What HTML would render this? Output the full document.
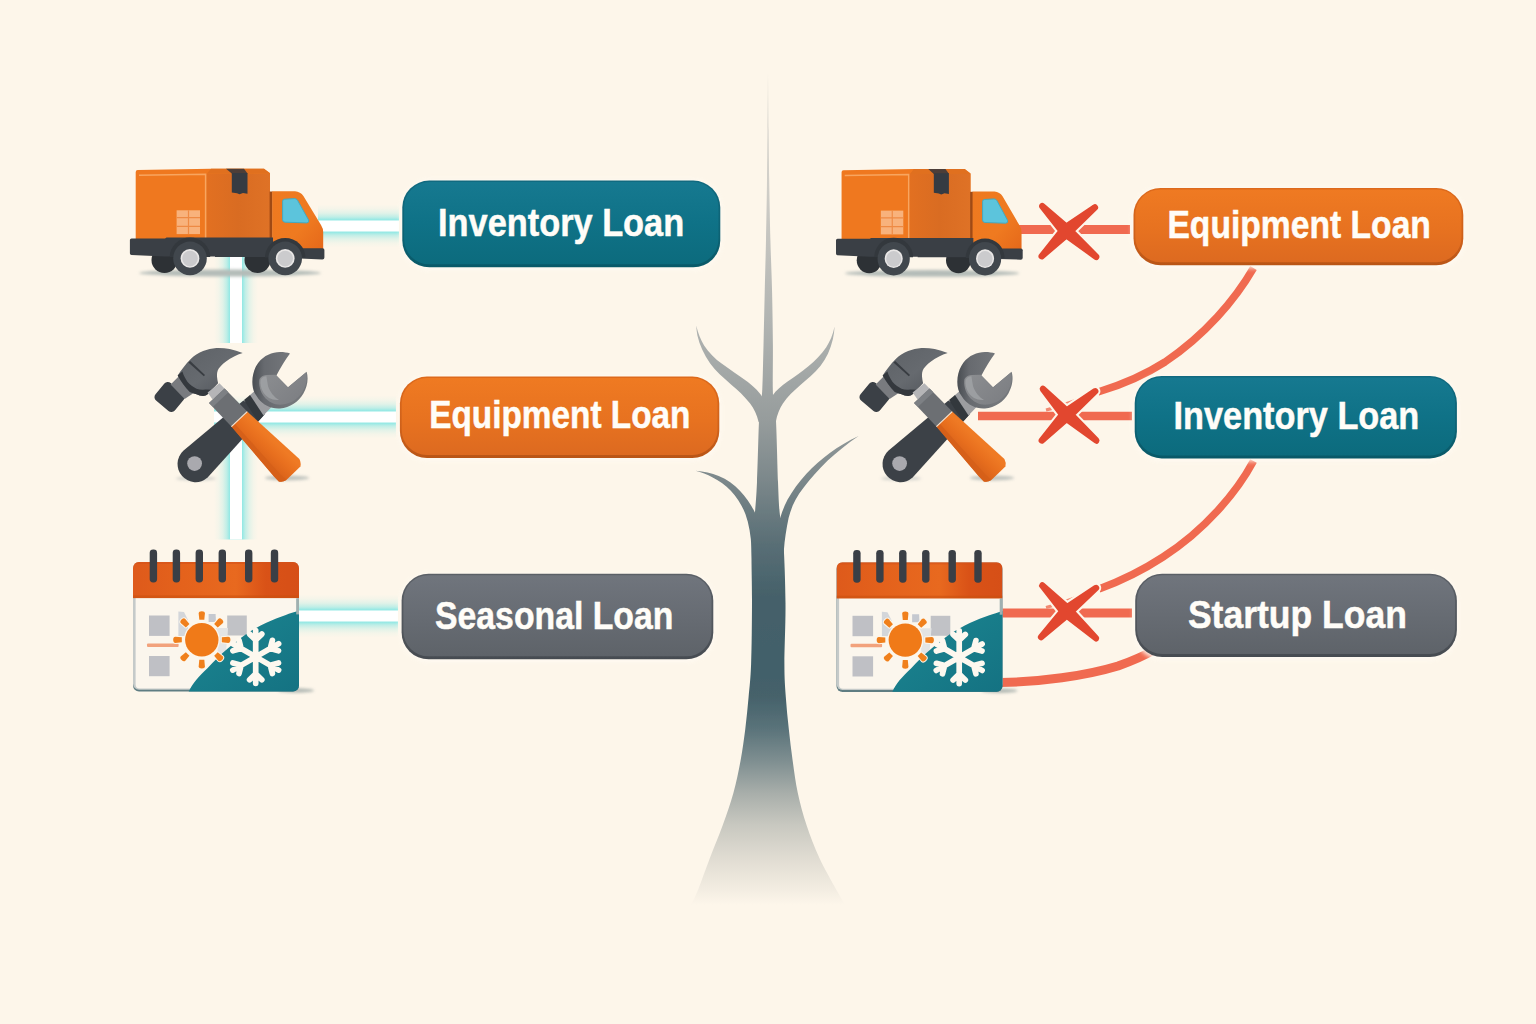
<!DOCTYPE html>
<html lang="en">
<head>
<meta charset="utf-8">
<title>Loan matching diagram</title>
<style>
  html,body{margin:0;padding:0;background:#fdf6ea;}
  body{width:1536px;height:1024px;overflow:hidden;font-family:"Liberation Sans",sans-serif;}
  svg{display:block;}
  .lbl{font-family:"Liberation Sans",sans-serif;font-weight:bold;fill:#fffdf8;stroke:#fffdf8;stroke-width:0.5px;}
</style>
</head>
<body>
<svg width="1536" height="1024" viewBox="0 0 1536 1024">
<defs>
  <filter id="soft3" x="-10%" y="-20%" width="120%" height="140%"><feGaussianBlur stdDeviation="2.2"/></filter>
  <filter id="blur1" x="-10%" y="-10%" width="120%" height="120%"><feGaussianBlur stdDeviation="0.6"/></filter>
  <filter id="blur2" x="-20%" y="-50%" width="140%" height="200%"><feGaussianBlur stdDeviation="1.6"/></filter>
  <filter id="blur5" x="-20%" y="-20%" width="140%" height="140%"><feGaussianBlur stdDeviation="4"/></filter>
  <linearGradient id="g_teal" x1="0" y1="0" x2="0" y2="1">
    <stop offset="0" stop-color="#167990"/><stop offset="0.5" stop-color="#0f7287"/><stop offset="1" stop-color="#0c6b7d"/>
  </linearGradient>
  <linearGradient id="g_teal_edge" x1="0" y1="0" x2="0" y2="1">
    <stop offset="0" stop-color="#116a80"/><stop offset="0.7" stop-color="#0c6172"/><stop offset="1" stop-color="#095968"/>
  </linearGradient>
  <linearGradient id="g_orange" x1="0" y1="0" x2="0" y2="1">
    <stop offset="0" stop-color="#ef7a22"/><stop offset="0.55" stop-color="#e77220"/><stop offset="1" stop-color="#dd6a20"/>
  </linearGradient>
  <linearGradient id="g_orange_edge" x1="0" y1="0" x2="0" y2="1">
    <stop offset="0" stop-color="#dd6a1c"/><stop offset="0.7" stop-color="#cc601b"/><stop offset="1" stop-color="#b95516"/>
  </linearGradient>
  <linearGradient id="g_gray" x1="0" y1="0" x2="0" y2="1">
    <stop offset="0" stop-color="#70757d"/><stop offset="0.55" stop-color="#666b72"/><stop offset="1" stop-color="#5e6369"/>
  </linearGradient>
  <linearGradient id="g_gray_edge" x1="0" y1="0" x2="0" y2="1">
    <stop offset="0" stop-color="#5b6067"/><stop offset="0.7" stop-color="#50555b"/><stop offset="1" stop-color="#464b51"/>
  </linearGradient>
  <linearGradient id="g_x" x1="0" y1="0" x2="1" y2="1">
    <stop offset="0" stop-color="#e34a33"/><stop offset="1" stop-color="#e5452d"/>
  </linearGradient>
  <linearGradient id="g_tree" gradientUnits="userSpaceOnUse" x1="0" y1="70" x2="0" y2="905">
    <stop offset="0" stop-color="#ddd9d1"/>
    <stop offset="0.14" stop-color="#d0cec8"/>
    <stop offset="0.30" stop-color="#b1b4b2"/>
    <stop offset="0.42" stop-color="#969c9c"/>
    <stop offset="0.49" stop-color="#7c888b"/>
    <stop offset="0.565" stop-color="#5a6f76"/>
    <stop offset="0.63" stop-color="#45616a"/>
    <stop offset="0.72" stop-color="#42606a"/>
    <stop offset="0.751" stop-color="#46626b"/>
    <stop offset="0.789" stop-color="#5a737a"/>
    <stop offset="0.828" stop-color="#7f8f91"/>
    <stop offset="0.866" stop-color="#a8aeaa"/>
    <stop offset="0.904" stop-color="#c8c8c0"/>
    <stop offset="0.944" stop-color="#e0dcd2"/>
    <stop offset="0.982" stop-color="#f3ede2"/>
    <stop offset="1" stop-color="#fdf6ea"/>
  </linearGradient>
  <linearGradient id="g_glowH" x1="0" y1="0" x2="0" y2="1">
    <stop offset="0" stop-color="#93e8e4" stop-opacity="0"/>
    <stop offset="0.10" stop-color="#93e8e4" stop-opacity="0.08"/>
    <stop offset="0.20" stop-color="#93e8e4" stop-opacity="0.26"/>
    <stop offset="0.29" stop-color="#93e8e4" stop-opacity="0.58"/>
    <stop offset="0.355" stop-color="#93e8e4" stop-opacity="0.98"/>
    <stop offset="0.645" stop-color="#93e8e4" stop-opacity="0.98"/>
    <stop offset="0.71" stop-color="#93e8e4" stop-opacity="0.58"/>
    <stop offset="0.80" stop-color="#93e8e4" stop-opacity="0.26"/>
    <stop offset="0.90" stop-color="#93e8e4" stop-opacity="0.08"/>
    <stop offset="1" stop-color="#93e8e4" stop-opacity="0"/>
  </linearGradient>
  <linearGradient id="g_glowV" x1="0" y1="0" x2="1" y2="0">
    <stop offset="0" stop-color="#93e8e4" stop-opacity="0"/>
    <stop offset="0.10" stop-color="#93e8e4" stop-opacity="0.08"/>
    <stop offset="0.20" stop-color="#93e8e4" stop-opacity="0.26"/>
    <stop offset="0.29" stop-color="#93e8e4" stop-opacity="0.58"/>
    <stop offset="0.355" stop-color="#93e8e4" stop-opacity="0.98"/>
    <stop offset="0.645" stop-color="#93e8e4" stop-opacity="0.98"/>
    <stop offset="0.71" stop-color="#93e8e4" stop-opacity="0.58"/>
    <stop offset="0.80" stop-color="#93e8e4" stop-opacity="0.26"/>
    <stop offset="0.90" stop-color="#93e8e4" stop-opacity="0.08"/>
    <stop offset="1" stop-color="#93e8e4" stop-opacity="0"/>
  </linearGradient>

  <linearGradient id="g_boxside" x1="0" y1="0" x2="1" y2="0">
    <stop offset="0" stop-color="#e27021"/><stop offset="0.5" stop-color="#d96c22"/><stop offset="1" stop-color="#df7226"/>
  </linearGradient>
  <linearGradient id="g_cab" x1="0" y1="0" x2="1" y2="1">
    <stop offset="0" stop-color="#ee7920"/><stop offset="0.6" stop-color="#ef7a20"/><stop offset="1" stop-color="#e5681a"/>
  </linearGradient>

  <linearGradient id="g_wrtop" gradientUnits="userSpaceOnUse" x1="254" y1="372" x2="290" y2="372">
    <stop offset="0" stop-color="#4d5156"/><stop offset="0.28" stop-color="#676a6f"/><stop offset="1" stop-color="#74777b"/>
  </linearGradient>
  <linearGradient id="g_hhead" x1="0" y1="0" x2="1" y2="1">
    <stop offset="0" stop-color="#5d6166"/><stop offset="0.5" stop-color="#666a6f"/><stop offset="1" stop-color="#4c5056"/>
  </linearGradient>
  <linearGradient id="g_grip" gradientUnits="userSpaceOnUse" x1="262" y1="430" x2="247" y2="446">
    <stop offset="0" stop-color="#ef7a24"/><stop offset="0.45" stop-color="#e86f1e"/><stop offset="1" stop-color="#d9621a"/>
  </linearGradient>
  <linearGradient id="g_wr" gradientUnits="userSpaceOnUse" x1="262" y1="360" x2="300" y2="400">
    <stop offset="0" stop-color="#8f9194"/><stop offset="1" stop-color="#7d7f83"/>
  </linearGradient>

  <linearGradient id="g_calhead" x1="0" y1="0" x2="1" y2="0">
    <stop offset="0" stop-color="#de5a1b"/><stop offset="0.3" stop-color="#e4621c"/><stop offset="0.62" stop-color="#e8691f"/><stop offset="0.8" stop-color="#d95217"/><stop offset="1" stop-color="#d64f17"/>
  </linearGradient>
  <linearGradient id="g_calteal" x1="0" y1="0" x2="1" y2="1">
    <stop offset="0" stop-color="#1c8792"/><stop offset="1" stop-color="#147282"/>
  </linearGradient>
  <clipPath id="calclip"><rect x="133" y="562" width="166" height="129.4" rx="6"/></clipPath>
</defs>
<rect width="1536" height="1024" fill="#fdf6ea"/>

<g id="tree" filter="url(#blur1)" fill="url(#g_tree)">
  <!-- trunk + spike -->
  <path d="M768,73 C768.1,82.5 768.4,112.2 768.6,130.0 C768.8,147.8 768.9,161.7 769.2,180.0 C769.5,198.3 769.9,221.2 770.4,240.0 C770.9,258.8 771.7,275.1 772.1,292.7 C772.5,310.3 772.8,329.3 772.9,345.4 C773.0,361.4 772.6,379.1 772.8,389.0 C773.0,398.9 773.5,399.7 774.0,405.0 C774.5,410.3 775.3,408.2 776.0,421.0 C776.7,433.8 777.4,466.8 778.0,482.0 C778.6,497.2 778.7,502.0 779.6,512.0 C780.5,522.0 782.4,526.8 783.4,542.0 C784.4,557.2 785.3,582.7 785.5,603.0 C785.7,623.3 784.4,648.3 784.4,664.0 C784.4,679.7 785.1,686.2 785.8,697.0 C786.5,707.8 787.6,718.3 788.8,729.0 C789.9,739.7 791.2,750.3 792.7,761.0 C794.2,771.7 795.5,782.3 797.8,793.0 C800.1,803.7 802.9,814.2 806.5,825.0 C810.1,835.8 814.4,847.2 819.4,858.0 C824.4,868.8 832.1,882.0 836.5,890.0 C840.9,898.0 844.0,903.3 845.5,906.0 L690.5,906 C691.8,903.3 694.8,898.0 698.0,890.0 C701.2,882.0 705.8,868.8 709.9,858.0 C714.0,847.2 718.9,835.8 722.8,825.0 C726.7,814.2 730.4,803.7 733.4,793.0 C736.4,782.3 738.5,771.7 740.5,761.0 C742.5,750.3 743.9,739.7 745.3,729.0 C746.6,718.3 747.6,707.8 748.6,697.0 C749.6,686.2 750.5,679.7 751.1,664.0 C751.7,648.3 751.9,623.3 752.0,603.0 C752.1,582.7 751.1,557.2 751.6,542.0 C752.1,526.8 754.1,522.0 755.0,512.0 C755.9,502.0 756.3,497.2 757.0,482.0 C757.7,466.8 758.4,433.8 759.0,421.0 C759.6,408.2 760.1,410.3 760.6,405.0 C761.1,399.7 761.8,398.9 762.3,389.0 C762.8,379.1 763.1,361.4 763.5,345.4 C763.9,329.3 764.3,310.3 764.7,292.7 C765.1,275.1 765.6,258.8 766.0,240.0 C766.4,221.2 766.8,198.3 767.0,180.0 C767.2,161.7 767.3,147.8 767.5,130.0 C767.7,112.2 767.9,82.5 768.0,73.0 Z"/>
  <!-- upper left branch -->
  <path d="M696.2,325.6 C698.4,334 700.6,340 704.1,345.4 C709,353 715,358.6 722,363.8 C730,369.6 738,375 745.4,380.2 C752,385 758.4,390.4 762,396.6 L768,402 L768,428 L758.6,422 C757,414.6 754,408.6 750.1,403.5 C744.6,396.4 738,390.4 731.3,384.7 C723,377.6 715.6,371 710.2,363.6 C704,355 699.6,345 697.4,335.6 C696.8,332.4 696.4,329 696.2,325.6Z"/>
  <!-- upper right branch -->
  <path d="M834.6,326.6 C832.8,335 830,341.6 826.1,347.4 C821,354.8 815,360.6 808.7,366 C801.6,372 794.4,377 787.6,381.6 C781.6,386 776,390.4 772.4,395.8 L768,402 L768,428 L775.8,422 C777,414.6 779.6,408.6 782.9,403.5 C787.6,396.6 793.4,391.2 799.3,386.1 C807,379.4 814.6,373 820.4,366 C826.4,358.6 830.4,349.6 832.8,339.6 C833.8,335.4 834.4,331 834.6,326.6Z"/>
  <!-- lower left branch -->
  <path d="M695.6,470.8 C704,471.6 711.4,473 718.7,476 C727,479.4 734,484.6 739.9,490.8 C746,497.2 751,504.6 755.4,513.4 L768,520 L768,600 L754.5,600 C753.4,582 752.2,565 751.5,548 C751,536 749,524 745.4,514 C742,505 737,497.4 730.8,490.7 C725.4,485 719.4,480.6 712.7,477.4 C707,474.6 701.4,472.4 695.6,470.8Z"/>
  <!-- lower right branch -->
  <path d="M858.6,436 C848,441 838.6,446.4 829.8,452.9 C821,459.4 813.4,466 806.4,473.8 C799,482 792.6,490.6 787.6,499.6 C784.6,505.4 782,511.6 780,518.4 L768,520 L768,600 L782,600 C782.8,582 783.4,565 783.9,550 C784.6,540 786.4,528.6 788.6,518 C791.4,507 796,496.8 803.5,487.7 C810.6,478.4 818.6,469.6 827.7,460.6 C837,452 847.4,443.6 858.6,436Z"/>
</g>
<g id="leftlines"><rect x="214.0" y="250" width="44" height="93" fill="url(#g_glowV)"/><rect x="230.0" y="250" width="12" height="93" fill="#ffffff"/><rect x="214.0" y="411" width="44" height="128.5" fill="url(#g_glowV)"/><rect x="230.0" y="411" width="12" height="128.5" fill="#ffffff"/><rect x="318" y="204.5" width="81" height="43" fill="url(#g_glowH)"/><rect x="318" y="220.5" width="81" height="11" fill="#ffffff"/><rect x="214" y="395.5" width="182" height="43" fill="url(#g_glowH)"/><rect x="214" y="411.5" width="182" height="11" fill="#ffffff"/><rect x="299" y="594.5" width="99" height="43" fill="url(#g_glowH)"/><rect x="299" y="610.5" width="99" height="11" fill="#ffffff"/></g>
<g id="rightlines" fill="none" stroke="#f06a50" stroke-linecap="butt">
  <path d="M1018,229.5 L1130,229.5" stroke-width="9"/>
  <path d="M978,416 L1132,416" stroke-width="8.5"/>
  <path d="M1001,613 L1132,613" stroke-width="9"/>
  <path d="M1253.5,268 C1235,300 1205,335 1165,362 C1140,378 1118,386 1098,392" stroke-width="7.5"/>
  <path d="M1098,392 C1080,399 1062,406 1046,410" stroke-width="3.2" stroke="#f28a72"/>
  <path d="M1253.5,461 C1237,492 1205,530 1163,557 C1140,572 1118,582 1099,589" stroke-width="7.5"/>
  <path d="M1099,589 C1080,596 1062,603 1046,607.5" stroke-width="3.2" stroke="#f28a72"/>
  <path d="M1001,682.5 C1040,682 1085,676 1118,666 C1132,661 1142,657 1152,651" stroke-width="9"/>
</g>

<g>
  <rect x="400.8" y="179.6" width="320.99999999999994" height="90.70000000000002" rx="29" fill="#fffaf2" opacity="0.9" filter="url(#soft3)"/>
  <rect x="402.3" y="180.6" width="317.99999999999994" height="86.70000000000002" rx="27" fill="url(#g_teal_edge)"/>
  <rect x="404.1" y="182.0" width="314.3999999999999" height="82.30000000000001" rx="25.2" fill="url(#g_teal)"/>
  <text x="438" y="235.5" textLength="246.20000000000005" lengthAdjust="spacingAndGlyphs" font-size="39" class="lbl">Inventory Loan</text>
</g>
<g>
  <rect x="398.4" y="375.6" width="322.4" height="85.39999999999998" rx="29" fill="#fffaf2" opacity="0.9" filter="url(#soft3)"/>
  <rect x="399.9" y="376.6" width="319.4" height="81.39999999999998" rx="27" fill="url(#g_orange_edge)"/>
  <rect x="401.7" y="378.0" width="315.79999999999995" height="76.99999999999997" rx="25.2" fill="url(#g_orange)"/>
  <text x="429.2" y="428" textLength="261.3" lengthAdjust="spacingAndGlyphs" font-size="39" class="lbl">Equipment Loan</text>
</g>
<g>
  <rect x="400.1" y="572.8" width="314.69999999999993" height="89.5" rx="29" fill="#fffaf2" opacity="0.9" filter="url(#soft3)"/>
  <rect x="401.6" y="573.8" width="311.69999999999993" height="85.5" rx="27" fill="url(#g_gray_edge)"/>
  <rect x="403.40000000000003" y="575.1999999999999" width="308.0999999999999" height="81.1" rx="25.2" fill="url(#g_gray)"/>
  <text x="435" y="628.9" textLength="238.39999999999998" lengthAdjust="spacingAndGlyphs" font-size="39" class="lbl">Seasonal Loan</text>
</g>
<g>
  <rect x="1132.0" y="187" width="332.79999999999995" height="81.19999999999999" rx="29" fill="#fffaf2" opacity="0.9" filter="url(#soft3)"/>
  <rect x="1133.5" y="188" width="329.79999999999995" height="77.19999999999999" rx="27" fill="url(#g_orange_edge)"/>
  <rect x="1135.3" y="189.4" width="326.19999999999993" height="72.79999999999998" rx="25.2" fill="url(#g_orange)"/>
  <text x="1167.4" y="237.5" textLength="263.5" lengthAdjust="spacingAndGlyphs" font-size="39" class="lbl">Equipment Loan</text>
</g>
<g>
  <rect x="1133.2" y="375" width="325.20000000000005" height="86.39999999999998" rx="29" fill="#fffaf2" opacity="0.9" filter="url(#soft3)"/>
  <rect x="1134.7" y="376" width="322.20000000000005" height="82.39999999999998" rx="27" fill="url(#g_teal_edge)"/>
  <rect x="1136.5" y="377.4" width="318.6" height="77.99999999999997" rx="25.2" fill="url(#g_teal)"/>
  <text x="1173.6" y="428.7" textLength="245.70000000000005" lengthAdjust="spacingAndGlyphs" font-size="39" class="lbl">Inventory Loan</text>
</g>
<g>
  <rect x="1133.7" y="572.8" width="324.70000000000005" height="87.20000000000005" rx="29" fill="#fffaf2" opacity="0.9" filter="url(#soft3)"/>
  <rect x="1135.2" y="573.8" width="321.70000000000005" height="83.20000000000005" rx="27" fill="url(#g_gray_edge)"/>
  <rect x="1137.0" y="575.1999999999999" width="318.1" height="78.80000000000004" rx="25.2" fill="url(#g_gray)"/>
  <text x="1187.9" y="627.5" textLength="219.0" lengthAdjust="spacingAndGlyphs" font-size="39" class="lbl">Startup Loan</text>
</g><g id="xmarks"><path d="M1042.3,206.2 L1063.7,233.5 L1096.2,256.8 L1068.3,228.5Z M1094.9,207.4 L1063.7,228.5 L1041.7,256.3 L1068.3,233.5Z" fill="#fdf6ea" stroke="#fdf6ea" stroke-width="10.5" stroke-linejoin="round"/><path d="M1042.3,206.2 L1063.7,233.5 L1096.2,256.8 L1068.3,228.5Z M1094.9,207.4 L1063.7,228.5 L1041.7,256.3 L1068.3,233.5Z" fill="#e2472f" stroke="#e2472f" stroke-width="6.4" stroke-linejoin="round"/><path d="M1042.9,389.0 L1064.0,417.1 L1096.3,440.5 L1068.8,412.3Z M1095.2,391.2 L1064.1,412.2 L1041.8,440.5 L1068.7,417.2Z" fill="#fdf6ea" stroke="#fdf6ea" stroke-width="10.5" stroke-linejoin="round"/><path d="M1042.9,389.0 L1064.0,417.1 L1096.3,440.5 L1068.8,412.3Z M1095.2,391.2 L1064.1,412.2 L1041.8,440.5 L1068.7,417.2Z" fill="#e2472f" stroke="#e2472f" stroke-width="6.4" stroke-linejoin="round"/><path d="M1042.3,585.5 L1064.3,613.7 L1096.1,638.3 L1069.1,608.9Z M1096.0,588.0 L1064.4,608.8 L1041.1,637.1 L1069.0,613.8Z" fill="#fdf6ea" stroke="#fdf6ea" stroke-width="10.5" stroke-linejoin="round"/><path d="M1042.3,585.5 L1064.3,613.7 L1096.1,638.3 L1069.1,608.9Z M1096.0,588.0 L1064.4,608.8 L1041.1,637.1 L1069.0,613.8Z" fill="#e2472f" stroke="#e2472f" stroke-width="6.4" stroke-linejoin="round"/></g><!--ICONS-->
<g id="truck">
  <ellipse cx="230" cy="273" rx="91" ry="3.4" fill="#b4bcb8" filter="url(#blur2)"/>
  <!-- far wheels -->
  <circle cx="164.5" cy="260" r="13" fill="#2d3135"/>
  <circle cx="257.5" cy="260" r="13" fill="#2d3135"/>
  <!-- cargo box -->
  <path d="M137.7,169.9 L211,168.8 L264,168.8 L270,173 L270,240.5 L135.7,240.5 L135.7,171.9 Q135.7,169.9 137.7,169.9Z" fill="#ef781f"/>
  <path d="M206.4,173.5 L270,173.5 L270,240.5 L206.4,240.5Z" fill="url(#g_boxside)"/>
  <path d="M211,168.8 L264,168.8 L270,173.6 L207,173.6Z" fill="#e0701f"/>
  <path d="M226,168.8 L244,168.8 L247.6,173.6 L231.8,173.6Z" fill="#4d3e38"/>
  <path d="M139,175.3 L205.6,174.2 L205.6,238" fill="none" stroke="#f8a55f" stroke-width="1.5"/>
  <!-- tape -->
  <path d="M231.8,173 L247.5,173 L247.5,193.8 L243,193 L239.5,194.2 L237,193.2 L231.8,192.5Z" fill="#363b42"/>
  <!-- crate window -->
  <rect x="176.6" y="210.3" width="23.4" height="23.8" fill="#f8b27c"/>
  <path d="M188.5,210.3 V234.1 M176.6,217.6 H200 M176.6,226.4 H200" stroke="#ee8a44" stroke-width="1.2" fill="none"/>
  <!-- gap -->
  <rect x="269.6" y="191.5" width="3" height="50" fill="#a04a14"/>
  <!-- cab -->
  <path d="M272.2,191.2 L295,191.2 Q300.5,191.6 303.4,196 L321,225 Q323.2,228.5 323.2,232 L323.2,249 L272.2,249Z" fill="url(#g_cab)"/>
  <path d="M284.6,199.2 L294.6,198.6 Q296.6,198.6 297.6,200.4 L308.6,220 Q309.6,222.6 306.8,222.9 L285,222.2 Q282.6,222 282.6,219.8 L282.6,201.2 Q282.6,199.3 284.6,199.2Z" fill="#5cc4dc" stroke="#44a9c0" stroke-width="1"/>
  <!-- chassis -->
  <path d="M131.5,238.4 L165,238.4 L166.5,237.6 L273,237.6 L273,257 L215,257 L215,256.4 L165,256.4 L131.5,255 Q129.9,255 129.9,253.2 L129.9,240 Q129.9,238.4 131.5,238.4Z" fill="#3a3f45"/>
  <path d="M300,248.2 L322.6,248.2 Q324.4,248.2 324.4,250 L324.4,257.4 Q324.4,259.4 322.4,259.4 L300,258.6Z" fill="#3a3f45"/>
  <!-- wheel arches -->
  <path d="M169.8,257 A20.2,19.5 0 0 1 210.2,257Z" fill="#33383d"/>
  <path d="M265,257.6 A20.2,19.5 0 0 1 305.4,257.6Z" fill="#33383d"/>
  <!-- near wheels -->
  <circle cx="190" cy="258.4" r="16.8" fill="#41474d"/>
  <circle cx="190" cy="258.4" r="9.4" fill="#e9e7e6"/>
  <circle cx="190" cy="258.6" r="7.8" fill="#cbcbcd"/>
  <circle cx="285.2" cy="258.4" r="16.8" fill="#41474d"/>
  <circle cx="285.2" cy="258.4" r="9.4" fill="#e9e7e6"/>
  <circle cx="285.2" cy="258.6" r="7.8" fill="#cbcbcd"/>
</g>

<g id="tools">
  <ellipse cx="196" cy="478.5" rx="20" ry="2.2" fill="#c9cbc6" opacity="0.8" filter="url(#blur2)"/>
  <ellipse cx="287" cy="478" rx="22" ry="2.4" fill="#b9beba" opacity="0.9" filter="url(#blur2)"/>
  <!-- WRENCH -->
  <!-- handle -->
  <path d="M243.4,400.6 L183.6,450.6 A17.2,17.2 0 1 0 207.6,477.6 L264.8,414.2 Z" fill="#3c4147"/>
  <circle cx="194.6" cy="463.6" r="7.4" fill="#a9a9ae"/>
  <!-- neck -->
  <path d="M249.5,395.5 L257,389 L272,406.5 L262.5,416.5Z" fill="#9c9da0"/>
  <path d="M244,400 L250,395 L263.5,415.5 L258,421.5Z" fill="#33383d"/>
  <!-- head outer -->
  <path d="M254.6,393 C250.5,384 252,371 258.5,362.5 C264,355.5 272,352 280,352 C284,352 287.5,352.6 290,353.4 C286,359 280.5,367 276.4,375.6 L288,387.2 L306.6,371.8 C308.6,378 307.6,386 303.4,393.4 C298.6,401.6 290,407.6 280,408.4 C271,409 263.4,405 258.6,399 Z" fill="url(#g_wrtop)"/>
  <!-- head inner face -->
  <path d="M259.5,379 C261,376.6 263,375.4 266,375 L275.6,374.8 L288,387.4 L306,372.6 C307.4,378.6 306.4,385.4 302.6,391.8 C298.4,398.8 291,403.6 282.6,404.6 C275,405.4 268.4,402 264.4,397 C260.4,392 258.4,385 259.5,379Z" fill="url(#g_wr)"/>
  <path d="M260.6,380 C261.6,377.6 263.6,376.4 266.4,376.2 L268,386 C270,392 274,397 279,400 C272,400.6 266.4,397.4 263.4,392.6 C261,388.6 260,384 260.6,380Z" fill="#a3a5a8" opacity="0.75"/>
  <!-- HAMMER -->
  <!-- striking block -->
  <rect x="-12.6" y="-11.4" width="25.2" height="22.8" rx="4.5" transform="translate(169.6,397) rotate(40)" fill="#3b4046"/>
  <!-- neck -->
  <path d="M170.6,384.6 L180.6,374.6 L196,391.6 L184.6,399Z" fill="#797b7f"/>
  <!-- main head with claw -->
  <path d="M177.7,375.4 C179.4,372.6 181.2,370 183.2,367.7 C185.6,364.6 188.2,361.6 191,358.8 C194.6,355.4 198.6,352.8 203.1,351.1 C207.4,349.4 211.8,348.4 216.4,348 C220.8,347.8 225.4,348.2 229.7,348.9 C234,349.8 238.4,351.2 242.7,353.1 C239.6,354 236.8,355.2 234.1,356.6 C231,358.2 228,360 225.3,362.1 C222.6,364.2 220.4,366.4 218.6,368.8 C217.2,371.2 216.8,373.8 217,376.5 C217.2,378.8 217.6,381 218.1,383.2 L212,389.8 L207.6,394.2 C206.2,395.2 204.8,395.8 203.1,395.9 C200.8,395.8 198.6,395.2 196.5,394.2 C194.2,393.6 192,392.8 189.8,392 C187.4,389.6 185.2,387 183.2,384.3 C181.2,381.4 179.4,378.4 177.7,375.4Z" fill="url(#g_hhead)"/>
  <path d="M177.7,375.4 L182.4,371.6 C183.6,375.6 185.4,379 187.6,382.1 C190,385 193,387.2 196.5,388.7 C199.4,389.8 202.4,390 205.3,389.4 L212,389.8 L207.6,394.2 C206.2,395.2 204.8,395.8 203.1,395.9 C200.8,395.8 198.6,395.2 196.5,394.2 C194.2,393.6 192,392.8 189.8,392 C187.4,389.6 185.2,387 183.2,384.3 C181.2,381.4 179.4,378.4 177.7,375.4Z" fill="#34383d"/>
  <path d="M188.4,362.6 L190.2,361 L205,375 L203.8,376.2Z" fill="#393d42"/>
  <!-- shaft connector -->
  <path d="M207.6,392.6 L219.4,383.2 L225,389 L212.6,399.4Z" fill="#b5b5b7"/>
  <!-- steel sleeve -->
  <path d="M209,403 L224.6,388.4 L247.2,411.6 L231.4,426.6Z" fill="#6c6f73"/>
  <path d="M224.6,388.4 L228.4,392.2 L213,406.8 L209,403Z" fill="#7d8084"/>
  <!-- grip -->
  <path d="M231.4,426.6 L247.2,411.6 L299.4,459 Q301.4,462.6 300.4,466.6 L286.4,480 Q282.4,482.6 278.8,481.4 L274,476.4 Z" fill="url(#g_grip)"/>
  <path d="M231.4,426.6 L234.6,423.6 L280,474 L286.4,480 Q282.4,482.6 278.8,481.4 L274,476.4 Z" fill="#d55f19" opacity="0.85"/>
  <path d="M231.4,426.6 L247.2,411.6" stroke="#f4e6d6" stroke-width="1.2" fill="none"/>
</g>

<g id="cal">
  <ellipse cx="296" cy="690.5" rx="18" ry="2.2" fill="#aab2ae" opacity="0.9" filter="url(#blur2)"/>
  <!-- body -->
  <rect x="133" y="563" width="166" height="128.6" rx="6" fill="#5f7d82"/>
  <rect x="133" y="562" width="166" height="127.8" rx="6" fill="#c5cac9"/>
  <rect x="135.6" y="566" width="161" height="122.4" rx="4" fill="#fbf6ed"/>
  <g clip-path="url(#calclip)">
    <!-- little grey things -->
    <rect x="149" y="615.5" width="20.6" height="20.4" fill="#bfc0c5"/>
    <rect x="227.2" y="615.5" width="19.6" height="20" fill="#c1c2c6"/>
    <rect x="149" y="656" width="20.6" height="20.2" fill="#bfc0c5"/>
    <path d="M178.4,611.5 L184,612 L188,620 L188,636 L178.4,636Z" fill="#d3d6da"/>
    <path d="M208.6,614 L215.6,614 L216,622 L208.6,622Z" fill="#c5c9d0"/>
    <path d="M216,628 L228,628 L226,652 L218,655Z" fill="#e3e4e4"/>
    <rect x="147" y="643.4" width="31.6" height="3.6" rx="1" fill="#f2a27c"/>
    <!-- teal wedge -->
    <path d="M188.6,692 C192,684 199,676 207.7,668 C214,661 220,655 227.2,649 C234,643.4 240,638.4 246.7,633.8 C253,629.6 259.6,626 266.3,622.8 C273,619.8 279.4,617.2 285.8,615 C290,613.6 294.6,612 300,610.6 L300,692Z" fill="url(#g_calteal)"/>
    <!-- header -->
    <rect x="133" y="562" width="166" height="36" fill="url(#g_calhead)"/>
    <rect x="133" y="595.4" width="166" height="2.8" fill="#c9500f" opacity="0.55"/>
    <rect x="133" y="562" width="166" height="2" fill="#d4511a" opacity="0.6"/>
  </g>
  <rect x="296.2" y="598.4" width="2.8" height="16" fill="#9fb0b0"/>
  <!-- sun -->
  <path d="M-2.5,-20 L2.5,-20 L3.1,-26.4 Q3.1,-28.6 0,-28.6 Q-3.1,-28.6 -3.1,-26.4Z" transform="translate(201.8,639.8) rotate(0)" fill="#f0801c" stroke="#fdf6ea" stroke-width="2" stroke-linejoin="round" paint-order="stroke"/>
  <path d="M-2.5,-20 L2.5,-20 L3.1,-26.4 Q3.1,-28.6 0,-28.6 Q-3.1,-28.6 -3.1,-26.4Z" transform="translate(201.8,639.8) rotate(45)" fill="#f0801c" stroke="#fdf6ea" stroke-width="2" stroke-linejoin="round" paint-order="stroke"/>
  <path d="M-2.5,-20 L2.5,-20 L3.1,-26.4 Q3.1,-28.6 0,-28.6 Q-3.1,-28.6 -3.1,-26.4Z" transform="translate(201.8,639.8) rotate(90)" fill="#f0801c" stroke="#fdf6ea" stroke-width="2" stroke-linejoin="round" paint-order="stroke"/>
  <path d="M-2.5,-20 L2.5,-20 L3.1,-26.4 Q3.1,-28.6 0,-28.6 Q-3.1,-28.6 -3.1,-26.4Z" transform="translate(201.8,639.8) rotate(135)" fill="#f0801c" stroke="#fdf6ea" stroke-width="2" stroke-linejoin="round" paint-order="stroke"/>
  <path d="M-2.5,-20 L2.5,-20 L3.1,-26.4 Q3.1,-28.6 0,-28.6 Q-3.1,-28.6 -3.1,-26.4Z" transform="translate(201.8,639.8) rotate(180)" fill="#f0801c" stroke="#fdf6ea" stroke-width="2" stroke-linejoin="round" paint-order="stroke"/>
  <path d="M-2.5,-20 L2.5,-20 L3.1,-26.4 Q3.1,-28.6 0,-28.6 Q-3.1,-28.6 -3.1,-26.4Z" transform="translate(201.8,639.8) rotate(225)" fill="#f0801c" stroke="#fdf6ea" stroke-width="2" stroke-linejoin="round" paint-order="stroke"/>
  <path d="M-2.5,-20 L2.5,-20 L3.1,-26.4 Q3.1,-28.6 0,-28.6 Q-3.1,-28.6 -3.1,-26.4Z" transform="translate(201.8,639.8) rotate(270)" fill="#f0801c" stroke="#fdf6ea" stroke-width="2" stroke-linejoin="round" paint-order="stroke"/>
  <path d="M-2.5,-20 L2.5,-20 L3.1,-26.4 Q3.1,-28.6 0,-28.6 Q-3.1,-28.6 -3.1,-26.4Z" transform="translate(201.8,639.8) rotate(315)" fill="#f0801c" stroke="#fdf6ea" stroke-width="2" stroke-linejoin="round" paint-order="stroke"/>
  <circle cx="201.8" cy="639.8" r="18" fill="#fdf6ea"/>
  <circle cx="201.8" cy="639.8" r="16.7" fill="#f07a18"/>
  <!-- snowflake -->
  <path d="M255.7,656.9 L255.7,630.5 M255.7,640.0 L261.8,634.1 M255.7,640.0 L249.6,634.1 M255.7,656.9 L232.8,643.7 M241.1,648.5 L239.0,640.3 M241.1,648.5 L232.9,650.8 M255.7,656.9 L232.8,670.1 M241.1,665.3 L232.9,663.0 M241.1,665.3 L239.0,673.5 M255.7,656.9 L255.7,683.3 M255.7,673.8 L249.6,679.7 M255.7,673.8 L261.8,679.7 M255.7,656.9 L278.6,670.1 M270.3,665.3 L272.4,673.5 M270.3,665.3 L278.5,663.0 M255.7,656.9 L278.6,643.7 M270.3,648.5 L278.5,650.8 M270.3,648.5 L272.4,640.3" stroke="#fdf8ef" stroke-width="5.7" stroke-linecap="round" fill="none"/>
  <!-- rings -->
  <g fill="#3a3f46">
    <rect x="149.7" y="549.6" width="7.4" height="32.8" rx="3.4"/>
    <rect x="172.7" y="549.6" width="7.4" height="32.8" rx="3.4"/>
    <rect x="195.6" y="549.6" width="7.4" height="32.8" rx="3.4"/>
    <rect x="218.6" y="549.6" width="7.4" height="32.8" rx="3.4"/>
    <rect x="245" y="549.6" width="7.4" height="32.8" rx="3.4"/>
    <rect x="270.8" y="549.6" width="7.4" height="32.8" rx="3.4"/>
  </g>
</g>
<use href="#cal" transform="translate(703.5,0.3)"/><use href="#tools" transform="translate(705,0)"/><use href="#truck" transform="translate(711.31,0.3) scale(0.9599,1)"/></svg>
</body>
</html>
